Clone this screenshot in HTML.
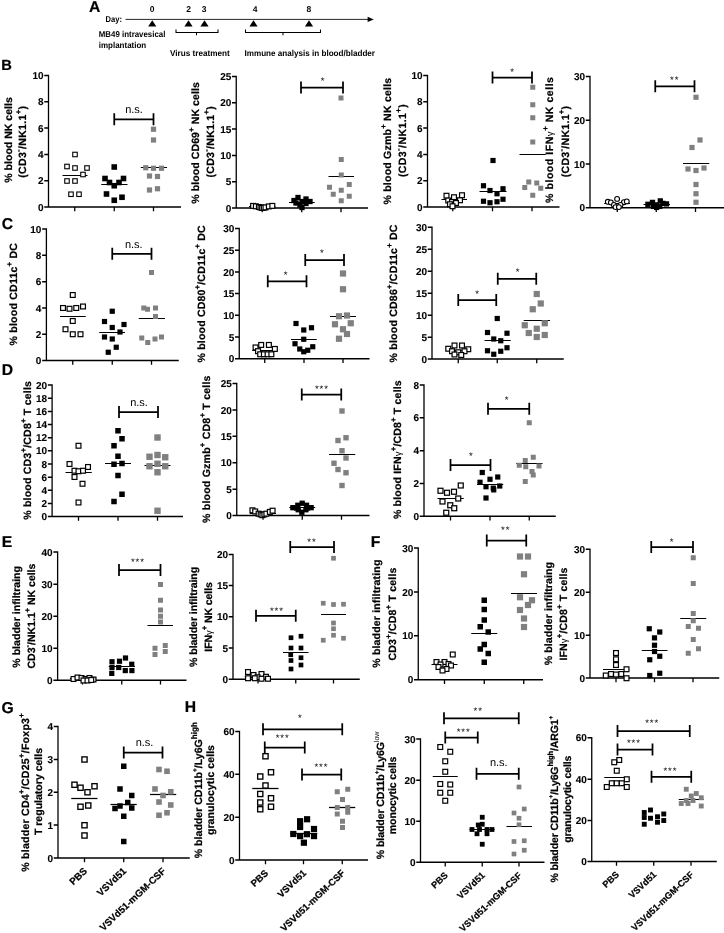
<!DOCTYPE html>
<html lang="en"><head><meta charset="utf-8"><title>Figure</title>
<style>html,body{margin:0;padding:0;background:#fff}svg{display:block}text{font-family:"Liberation Sans", Arial, Helvetica, sans-serif;fill:#000;text-rendering:geometricPrecision}.t text{font-weight:bold;stroke:#000;stroke-width:.1px}.b text,text.b{font-weight:bold;stroke:#000;stroke-width:.22px;stroke-linejoin:round}</style>
</head><body>
<svg width="724" height="933" viewBox="0 0 724 933">
<rect width="724" height="933" fill="#fff"/>
<g class="b" font-size="15.7">
<text x="88.9" y="11.9">A</text>
<text x="1.3" y="70.2" font-size="14.7">B</text>
<text x="1.7" y="228.6">C</text>
<text x="1.7" y="374.6">D</text>
<text x="1.7" y="546.6">E</text>
<text x="370.7" y="546.6">F</text>
<text x="1.5" y="712.6">G</text>
<text x="184.7" y="711.9">H</text>
</g>
<g id="A">
<path d="M125.5 19.4H369" stroke="#000" stroke-width="0.85" fill="none"/>
<path d="M373.8 19.4L367.6 16.8V22Z" fill="#000"/>
<path d="M152.25 20.3L156.35 26.6H148.15Z" fill="#000"/>
<path d="M188.5 20.3L192.6 26.6H184.4Z" fill="#000"/>
<path d="M204.5 20.3L208.6 26.6H200.4Z" fill="#000"/>
<path d="M253.5 20.3L257.6 26.6H249.4Z" fill="#000"/>
<path d="M309 20.3L313.1 26.6H304.9Z" fill="#000"/>
<path d="M176 29.5V32.5H218V29.5M196.5 32.5V35.2" stroke="#000" stroke-width="1.05" fill="none"/>
<path d="M245.5 29.5V32.5H320.5V29.5M283 32.5V35.2" stroke="#000" stroke-width="1.05" fill="none"/>
<g font-weight="bold" font-size="8.5">
<text x="152.1" y="12.2" text-anchor="middle">0</text>
<text x="188.5" y="12.2" text-anchor="middle">2</text>
<text x="204.2" y="12.2" text-anchor="middle">3</text>
<text x="255" y="12.2" text-anchor="middle">4</text>
<text x="308.8" y="12.2" text-anchor="middle">8</text>
<text x="105.5" y="21.6" textLength="16.5" lengthAdjust="spacingAndGlyphs">Day:</text>
<text x="98.8" y="37" textLength="66.6" lengthAdjust="spacingAndGlyphs">MB49 intravesical</text>
<text x="98.8" y="48.2" textLength="47.4" lengthAdjust="spacingAndGlyphs">implantation</text>
<text x="170" y="56.4" textLength="59.8" lengthAdjust="spacingAndGlyphs">Virus treatment</text>
<text x="244.5" y="56.2" textLength="130.5" lengthAdjust="spacingAndGlyphs">Immune analysis in blood/bladder</text>
</g></g>
<g id="B1">
<path d="M48.5 74.85V207H181M48.5 75.5H44.25M48.5 101.75H44.25M48.5 128H44.25M48.5 154.5H44.25M48.5 180.75H44.25M48.5 207H44.25M74.75 207V211.25M114.25 207V211.25M153.5 207V211.25" fill="none" stroke="#000" stroke-width="1.3"/>
<g class="t" font-size="10" text-anchor="end">
<text x="43.5" y="79.1">10</text>
<text x="43.5" y="105.35">8</text>
<text x="43.5" y="131.6">6</text>
<text x="43.5" y="158.1">4</text>
<text x="43.5" y="184.35">2</text>
<text x="43.5" y="210.6">0</text>
</g>
<path d="M62.5 175.5H87.5" stroke="#000" stroke-width="1.05"/>
<rect x="72.75" y="152.25" width="4.5" height="4.5" fill="#fff" stroke="#000" stroke-width="1.1"/>
<rect x="64.75" y="164.25" width="4.5" height="4.5" fill="#fff" stroke="#000" stroke-width="1.1"/>
<rect x="72.75" y="165.75" width="4.5" height="4.5" fill="#fff" stroke="#000" stroke-width="1.1"/>
<rect x="84.75" y="165.75" width="4.5" height="4.5" fill="#fff" stroke="#000" stroke-width="1.1"/>
<rect x="80.75" y="172.25" width="4.5" height="4.5" fill="#fff" stroke="#000" stroke-width="1.1"/>
<rect x="64.75" y="178.75" width="4.5" height="4.5" fill="#fff" stroke="#000" stroke-width="1.1"/>
<rect x="72.75" y="178.75" width="4.5" height="4.5" fill="#fff" stroke="#000" stroke-width="1.1"/>
<rect x="68.75" y="192" width="4.5" height="4.5" fill="#fff" stroke="#000" stroke-width="1.1"/>
<rect x="76.75" y="192" width="4.5" height="4.5" fill="#fff" stroke="#000" stroke-width="1.1"/>
<path d="M101.25 184.5H127.5" stroke="#000" stroke-width="1.05"/>
<rect x="111.45" y="164.2" width="5.6" height="5.6" fill="#000"/>
<rect x="102.2" y="175.7" width="5.6" height="5.6" fill="#000"/>
<rect x="120.7" y="175.7" width="5.6" height="5.6" fill="#000"/>
<rect x="106.7" y="179.7" width="5.6" height="5.6" fill="#000"/>
<rect x="116.2" y="179.7" width="5.6" height="5.6" fill="#000"/>
<rect x="111.45" y="182.95" width="5.6" height="5.6" fill="#000"/>
<rect x="103.7" y="191.2" width="5.6" height="5.6" fill="#000"/>
<rect x="119.2" y="194.45" width="5.6" height="5.6" fill="#000"/>
<rect x="111.45" y="197.45" width="5.6" height="5.6" fill="#000"/>
<path d="M140.75 167.5H167" stroke="#000" stroke-width="1.05"/>
<rect x="150.9" y="126.65" width="5.2" height="5.2" fill="#808080"/>
<rect x="150.9" y="137.4" width="5.2" height="5.2" fill="#808080"/>
<rect x="143.15" y="165.15" width="5.2" height="5.2" fill="#808080"/>
<rect x="150.9" y="165.65" width="5.2" height="5.2" fill="#808080"/>
<rect x="158.9" y="165.65" width="5.2" height="5.2" fill="#808080"/>
<rect x="146.9" y="173.4" width="5.2" height="5.2" fill="#808080"/>
<rect x="154.9" y="173.9" width="5.2" height="5.2" fill="#808080"/>
<rect x="154.9" y="186.15" width="5.2" height="5.2" fill="#808080"/>
<rect x="146.9" y="187.4" width="5.2" height="5.2" fill="#808080"/>
<path d="M114.25 119.25H153.5M114.25 113.35V125.15M153.5 113.35V125.15" fill="none" stroke="#000" stroke-width="1.75"/>
<text x="134" y="113.05" font-size="11" text-anchor="middle">n.s.</text>
<text transform="translate(11.75 182.7) rotate(-90)" class="b" font-size="10.55" textLength="85.5" lengthAdjust="spacing">% blood NK cells</text>
<text transform="translate(25.75 177.7) rotate(-90)" class="b" font-size="10.55" textLength="71.75" lengthAdjust="spacing">(CD3<tspan dy="-4.96" font-size="7.81">-</tspan><tspan dy="4.96">/</tspan>NK1.1<tspan dy="-4.96" font-size="7.81">+</tspan><tspan dy="4.96">)</tspan></text>
</g>
<g id="B2">
<path d="M236.25 75.85V208H368M236.25 76.5H232M236.25 102.75H232M236.25 129H232M236.25 155.5H232M236.25 181.75H232M236.25 208H232M262.25 208V212.25M301.75 208V212.25M341 208V212.25" fill="none" stroke="#000" stroke-width="1.3"/>
<g class="t" font-size="10" text-anchor="end">
<text x="231.25" y="80.1">25</text>
<text x="231.25" y="106.35">20</text>
<text x="231.25" y="132.6">15</text>
<text x="231.25" y="159.1">10</text>
<text x="231.25" y="185.35">5</text>
<text x="231.25" y="211.6">0</text>
</g>
<path d="M249 206.5H275.5" stroke="#000" stroke-width="1.05"/>
<rect x="250.67" y="203.47" width="4.85" height="4.85" fill="#fff" stroke="#000" stroke-width="1.2"/>
<rect x="253.47" y="203.88" width="4.85" height="4.85" fill="#fff" stroke="#000" stroke-width="1.2"/>
<rect x="256.47" y="204.57" width="4.85" height="4.85" fill="#fff" stroke="#000" stroke-width="1.2"/>
<rect x="258.07" y="205.07" width="4.85" height="4.85" fill="#fff" stroke="#000" stroke-width="1.2"/>
<rect x="259.68" y="205.57" width="4.85" height="4.85" fill="#fff" stroke="#000" stroke-width="1.2"/>
<rect x="261.32" y="205.32" width="4.85" height="4.85" fill="#fff" stroke="#000" stroke-width="1.2"/>
<rect x="263.07" y="204.97" width="4.85" height="4.85" fill="#fff" stroke="#000" stroke-width="1.2"/>
<rect x="266.47" y="203.97" width="4.85" height="4.85" fill="#fff" stroke="#000" stroke-width="1.2"/>
<rect x="269.88" y="203.47" width="4.85" height="4.85" fill="#fff" stroke="#000" stroke-width="1.2"/>
<path d="M289 202.5H314.75" stroke="#000" stroke-width="1.05"/>
<rect x="295.35" y="194.85" width="5.3" height="5.3" fill="#000"/>
<rect x="303.35" y="196.35" width="5.3" height="5.3" fill="#000"/>
<rect x="291.35" y="197.85" width="5.3" height="5.3" fill="#000"/>
<rect x="299.35" y="198.85" width="5.3" height="5.3" fill="#000"/>
<rect x="307.35" y="198.85" width="5.3" height="5.3" fill="#000"/>
<rect x="293.35" y="200.35" width="5.3" height="5.3" fill="#000"/>
<rect x="303.35" y="200.85" width="5.3" height="5.3" fill="#000"/>
<rect x="297.35" y="202.35" width="5.3" height="5.3" fill="#000"/>
<rect x="299.35" y="204.85" width="5.3" height="5.3" fill="#000"/>
<path d="M328.5 176.5H354" stroke="#000" stroke-width="1.05"/>
<rect x="338.5" y="95.5" width="5.0" height="5.0" fill="#808080"/>
<rect x="338.75" y="157" width="5.0" height="5.0" fill="#808080"/>
<rect x="338.75" y="172.5" width="5.0" height="5.0" fill="#808080"/>
<rect x="327" y="184.75" width="5.0" height="5.0" fill="#808080"/>
<rect x="346.75" y="182" width="5.0" height="5.0" fill="#808080"/>
<rect x="338.75" y="187.75" width="5.0" height="5.0" fill="#808080"/>
<rect x="330.75" y="191.75" width="5.0" height="5.0" fill="#808080"/>
<rect x="346.75" y="193.75" width="5.0" height="5.0" fill="#808080"/>
<rect x="338.75" y="198.25" width="5.0" height="5.0" fill="#808080"/>
<path d="M301 87.5H343M301 81.6V93.4M343 81.6V93.4" fill="none" stroke="#000" stroke-width="1.75"/>
<text x="323" y="84" font-size="9.6" letter-spacing="1" text-anchor="middle">*</text>
<text transform="translate(198.9 203.8) rotate(-90)" class="b" font-size="10.55" textLength="121.7" lengthAdjust="spacing">% blood CD69<tspan dy="-4.96" font-size="7.81">+</tspan><tspan dy="4.96"> </tspan>NK cells</text>
<text transform="translate(214 177.4) rotate(-90)" class="b" font-size="10.55" textLength="71.2" lengthAdjust="spacing">(CD3<tspan dy="-4.96" font-size="7.81">-</tspan><tspan dy="4.96">/</tspan>NK1.1<tspan dy="-4.96" font-size="7.81">+</tspan><tspan dy="4.96">)</tspan></text>
</g>
<g id="B3">
<path d="M427.5 74.85V207H559.5M427.5 75.5H423.25M427.5 101.75H423.25M427.5 128H423.25M427.5 154.5H423.25M427.5 180.75H423.25M427.5 207H423.25M452.75 207V211.25M492.5 207V211.25M532 207V211.25" fill="none" stroke="#000" stroke-width="1.3"/>
<g class="t" font-size="10" text-anchor="end">
<text x="422.5" y="79.1">10</text>
<text x="422.5" y="105.35">8</text>
<text x="422.5" y="131.6">6</text>
<text x="422.5" y="158.1">4</text>
<text x="422.5" y="184.35">2</text>
<text x="422.5" y="210.6">0</text>
</g>
<path d="M441.5 199.5H467" stroke="#000" stroke-width="1.05"/>
<rect x="444.07" y="193.32" width="4.85" height="4.85" fill="#fff" stroke="#000" stroke-width="1.2"/>
<rect x="459.57" y="192.82" width="4.85" height="4.85" fill="#fff" stroke="#000" stroke-width="1.2"/>
<rect x="451.57" y="194.82" width="4.85" height="4.85" fill="#fff" stroke="#000" stroke-width="1.2"/>
<rect x="445.82" y="198.07" width="4.85" height="4.85" fill="#fff" stroke="#000" stroke-width="1.2"/>
<rect x="457.57" y="197.82" width="4.85" height="4.85" fill="#fff" stroke="#000" stroke-width="1.2"/>
<rect x="449.57" y="199.57" width="4.85" height="4.85" fill="#fff" stroke="#000" stroke-width="1.2"/>
<rect x="453.57" y="200.57" width="4.85" height="4.85" fill="#fff" stroke="#000" stroke-width="1.2"/>
<rect x="447.57" y="201.82" width="4.85" height="4.85" fill="#fff" stroke="#000" stroke-width="1.2"/>
<rect x="450.07" y="203.82" width="4.85" height="4.85" fill="#fff" stroke="#000" stroke-width="1.2"/>
<path d="M479.5 191.5H506.5" stroke="#000" stroke-width="1.05"/>
<rect x="490.4" y="157.9" width="5.2" height="5.2" fill="#000"/>
<rect x="480.9" y="183.15" width="5.2" height="5.2" fill="#000"/>
<rect x="500.4" y="186.15" width="5.2" height="5.2" fill="#000"/>
<rect x="487.4" y="187.9" width="5.2" height="5.2" fill="#000"/>
<rect x="494.4" y="191.15" width="5.2" height="5.2" fill="#000"/>
<rect x="480.9" y="198.65" width="5.2" height="5.2" fill="#000"/>
<rect x="500.4" y="196.65" width="5.2" height="5.2" fill="#000"/>
<rect x="487.4" y="200.15" width="5.2" height="5.2" fill="#000"/>
<rect x="494.4" y="199.15" width="5.2" height="5.2" fill="#000"/>
<path d="M519.5 154.5H545.75" stroke="#000" stroke-width="1.05"/>
<rect x="530.25" y="84.75" width="5.0" height="5.0" fill="#808080"/>
<rect x="530.25" y="102.25" width="5.0" height="5.0" fill="#808080"/>
<rect x="530.25" y="115.25" width="5.0" height="5.0" fill="#808080"/>
<rect x="530.25" y="139.5" width="5.0" height="5.0" fill="#808080"/>
<rect x="526.25" y="179.5" width="5.0" height="5.0" fill="#808080"/>
<rect x="534.25" y="180.5" width="5.0" height="5.0" fill="#808080"/>
<rect x="522.25" y="185" width="5.0" height="5.0" fill="#808080"/>
<rect x="538.25" y="185.75" width="5.0" height="5.0" fill="#808080"/>
<rect x="530.25" y="192.75" width="5.0" height="5.0" fill="#808080"/>
<path d="M492.5 77.5H532M492.5 71.6V83.4M532 71.6V83.4" fill="none" stroke="#000" stroke-width="1.75"/>
<text x="512.5" y="74.5" font-size="9.6" letter-spacing="1" text-anchor="middle">*</text>
<text transform="translate(390.5 204.5) rotate(-90)" class="b" font-size="10.55" textLength="126.7" lengthAdjust="spacing">% blood Gzmb<tspan dy="-4.96" font-size="7.81">+</tspan><tspan dy="4.96"> </tspan>NK cells</text>
<text transform="translate(406.25 177.1) rotate(-90)" class="b" font-size="10.55" textLength="72.8" lengthAdjust="spacing">(CD3<tspan dy="-4.96" font-size="7.81">-</tspan><tspan dy="4.96">/</tspan>NK1.1<tspan dy="-4.96" font-size="7.81">+</tspan><tspan dy="4.96">)</tspan></text>
</g>
<g id="B4">
<path d="M590 75.85V207.75H724M590 76.5H585.75M590 120.25H585.75M590 164H585.75M590 207.75H585.75M617.25 207.75V212M656.25 207.75V212M695.5 207.75V212" fill="none" stroke="#000" stroke-width="1.3"/>
<g class="t" font-size="10" text-anchor="end">
<text x="585" y="80.1">30</text>
<text x="585" y="123.85">20</text>
<text x="585" y="167.6">10</text>
<text x="585" y="211.35">0</text>
</g>
<path d="M604.25 203.5H630" stroke="#000" stroke-width="1.05"/>
<circle cx="617.1" cy="198.9" r="2.4" fill="#fff" stroke="#000" stroke-width="1.1"/>
<circle cx="607.8" cy="201.8" r="2.4" fill="#fff" stroke="#000" stroke-width="1.1"/>
<circle cx="610.9" cy="202.4" r="2.4" fill="#fff" stroke="#000" stroke-width="1.1"/>
<circle cx="623.9" cy="202.2" r="2.4" fill="#fff" stroke="#000" stroke-width="1.1"/>
<circle cx="626.8" cy="201.4" r="2.4" fill="#fff" stroke="#000" stroke-width="1.1"/>
<circle cx="613.9" cy="204.9" r="2.4" fill="#fff" stroke="#000" stroke-width="1.1"/>
<circle cx="620.5" cy="204.9" r="2.4" fill="#fff" stroke="#000" stroke-width="1.1"/>
<circle cx="615.5" cy="207.1" r="2.4" fill="#fff" stroke="#000" stroke-width="1.1"/>
<circle cx="618.9" cy="207.1" r="2.4" fill="#fff" stroke="#000" stroke-width="1.1"/>
<path d="M643.5 204.5H670" stroke="#000" stroke-width="1.05"/>
<rect x="657.65" y="198.25" width="5.3" height="5.3" fill="#000"/>
<rect x="649.85" y="199.75" width="5.3" height="5.3" fill="#000"/>
<rect x="645.25" y="201.65" width="5.3" height="5.3" fill="#000"/>
<rect x="663.85" y="201.25" width="5.3" height="5.3" fill="#000"/>
<rect x="660.35" y="200.75" width="5.3" height="5.3" fill="#000"/>
<rect x="653.55" y="202.25" width="5.3" height="5.3" fill="#000"/>
<rect x="650.85" y="203.75" width="5.3" height="5.3" fill="#000"/>
<rect x="657.05" y="203.75" width="5.3" height="5.3" fill="#000"/>
<rect x="653.95" y="204.75" width="5.3" height="5.3" fill="#000"/>
<path d="M683 163.5H709.25" stroke="#000" stroke-width="1.05"/>
<rect x="693.4" y="94.65" width="5.2" height="5.2" fill="#808080"/>
<rect x="697.4" y="137.4" width="5.2" height="5.2" fill="#808080"/>
<rect x="689.4" y="144.9" width="5.2" height="5.2" fill="#808080"/>
<rect x="685.4" y="166.4" width="5.2" height="5.2" fill="#808080"/>
<rect x="693.4" y="167.9" width="5.2" height="5.2" fill="#808080"/>
<rect x="701.4" y="165.4" width="5.2" height="5.2" fill="#808080"/>
<rect x="693.4" y="181.9" width="5.2" height="5.2" fill="#808080"/>
<rect x="693.4" y="191.15" width="5.2" height="5.2" fill="#808080"/>
<rect x="693.4" y="199.65" width="5.2" height="5.2" fill="#808080"/>
<path d="M655.25 86.25H694.5M655.25 80.35V92.15M694.5 80.35V92.15" fill="none" stroke="#000" stroke-width="1.75"/>
<text x="674.75" y="83" font-size="9.6" letter-spacing="1" text-anchor="middle">**</text>
<text transform="translate(553.25 202.9) rotate(-90)" class="b" font-size="10.55" textLength="125.9" lengthAdjust="spacing">% blood IFN<tspan font-weight="normal" font-size="9.6" stroke="none">γ</tspan><tspan dy="-4.96" font-size="7.81">+</tspan><tspan dy="4.96"> </tspan>NK cells</text>
<text transform="translate(569 177.2) rotate(-90)" class="b" font-size="10.55" textLength="71.3" lengthAdjust="spacing">(CD3<tspan dy="-4.96" font-size="7.81">-</tspan><tspan dy="4.96">/</tspan>NK1.1<tspan dy="-4.96" font-size="7.81">+</tspan><tspan dy="4.96">)</tspan></text>
</g>
<g id="C1">
<path d="M46.4 228.35V360.5H178.75M46.4 229H42.15M46.4 255.25H42.15M46.4 281.75H42.15M46.4 308H42.15M46.4 334.25H42.15M46.4 360.5H42.15M72.75 360.5V364.75M112.25 360.5V364.75M151.5 360.5V364.75" fill="none" stroke="#000" stroke-width="1.3"/>
<g class="t" font-size="10" text-anchor="end">
<text x="41.4" y="232.6">10</text>
<text x="41.4" y="258.85">8</text>
<text x="41.4" y="285.35">6</text>
<text x="41.4" y="311.6">4</text>
<text x="41.4" y="337.85">2</text>
<text x="41.4" y="364.1">0</text>
</g>
<path d="M60 316.5H85.75" stroke="#000" stroke-width="1.05"/>
<rect x="70.33" y="292.57" width="4.85" height="4.85" fill="#fff" stroke="#000" stroke-width="1.2"/>
<rect x="80.58" y="304.07" width="4.85" height="4.85" fill="#fff" stroke="#000" stroke-width="1.2"/>
<rect x="60.58" y="305.57" width="4.85" height="4.85" fill="#fff" stroke="#000" stroke-width="1.2"/>
<rect x="67.08" y="306.32" width="4.85" height="4.85" fill="#fff" stroke="#000" stroke-width="1.2"/>
<rect x="73.83" y="305.57" width="4.85" height="4.85" fill="#fff" stroke="#000" stroke-width="1.2"/>
<rect x="70.33" y="318.57" width="4.85" height="4.85" fill="#fff" stroke="#000" stroke-width="1.2"/>
<rect x="63.08" y="326.82" width="4.85" height="4.85" fill="#fff" stroke="#000" stroke-width="1.2"/>
<rect x="70.33" y="331.82" width="4.85" height="4.85" fill="#fff" stroke="#000" stroke-width="1.2"/>
<rect x="78.08" y="331.82" width="4.85" height="4.85" fill="#fff" stroke="#000" stroke-width="1.2"/>
<path d="M99.25 332.5H125" stroke="#000" stroke-width="1.05"/>
<rect x="109.65" y="308.65" width="5.2" height="5.2" fill="#000"/>
<rect x="101.9" y="318.9" width="5.2" height="5.2" fill="#000"/>
<rect x="121.4" y="321.9" width="5.2" height="5.2" fill="#000"/>
<rect x="109.65" y="324.9" width="5.2" height="5.2" fill="#000"/>
<rect x="117.4" y="329.4" width="5.2" height="5.2" fill="#000"/>
<rect x="101.9" y="334.4" width="5.2" height="5.2" fill="#000"/>
<rect x="109.65" y="336.4" width="5.2" height="5.2" fill="#000"/>
<rect x="113.65" y="344.65" width="5.2" height="5.2" fill="#000"/>
<rect x="105.65" y="349.65" width="5.2" height="5.2" fill="#000"/>
<path d="M138.75 318.5H165" stroke="#000" stroke-width="1.05"/>
<rect x="149" y="270" width="5.0" height="5.0" fill="#808080"/>
<rect x="141.25" y="305.5" width="5.0" height="5.0" fill="#808080"/>
<rect x="145" y="306.75" width="5.0" height="5.0" fill="#808080"/>
<rect x="153" y="305.5" width="5.0" height="5.0" fill="#808080"/>
<rect x="153" y="314" width="5.0" height="5.0" fill="#808080"/>
<rect x="139.25" y="335.5" width="5.0" height="5.0" fill="#808080"/>
<rect x="145.25" y="340" width="5.0" height="5.0" fill="#808080"/>
<rect x="152.5" y="336.5" width="5.0" height="5.0" fill="#808080"/>
<rect x="159" y="334.5" width="5.0" height="5.0" fill="#808080"/>
<path d="M112.25 253.75H151.5M112.25 247.85V259.65M151.5 247.85V259.65" fill="none" stroke="#000" stroke-width="1.75"/>
<text x="133.75" y="247.55" font-size="11" text-anchor="middle">n.s.</text>
<text transform="translate(17.35 345.5) rotate(-90)" class="b" font-size="10.55" textLength="102.5" lengthAdjust="spacing">% blood CD11c<tspan dy="-4.96" font-size="7.81">+</tspan><tspan dy="4.96"> </tspan>DC</text>
</g>
<g id="C2">
<path d="M239.25 227.85V358.75H369.5M239.25 228.5H235M239.25 250.25H235M239.25 272H235M239.25 293.5H235M239.25 315.25H235M239.25 337H235M239.25 358.75H235M264.75 358.75V363M304 358.75V363M343 358.75V363" fill="none" stroke="#000" stroke-width="1.3"/>
<g class="t" font-size="10" text-anchor="end">
<text x="234.25" y="232.1">30</text>
<text x="234.25" y="253.85">25</text>
<text x="234.25" y="275.6">20</text>
<text x="234.25" y="297.1">15</text>
<text x="234.25" y="318.85">10</text>
<text x="234.25" y="340.6">5</text>
<text x="234.25" y="362.35">0</text>
</g>
<path d="M252.25 350.5H277.25" stroke="#000" stroke-width="1.05"/>
<rect x="258.75" y="342.52" width="4.85" height="4.85" fill="#fff" stroke="#000" stroke-width="1.2"/>
<rect x="266.45" y="342.52" width="4.85" height="4.85" fill="#fff" stroke="#000" stroke-width="1.2"/>
<rect x="253.15" y="345.02" width="4.85" height="4.85" fill="#fff" stroke="#000" stroke-width="1.2"/>
<rect x="272.43" y="346.5" width="4.85" height="4.85" fill="#fff" stroke="#000" stroke-width="1.2"/>
<rect x="255.62" y="348.75" width="4.85" height="4.85" fill="#fff" stroke="#000" stroke-width="1.2"/>
<rect x="257.75" y="351.85" width="4.85" height="4.85" fill="#fff" stroke="#000" stroke-width="1.2"/>
<rect x="261.47" y="351.85" width="4.85" height="4.85" fill="#fff" stroke="#000" stroke-width="1.2"/>
<rect x="265.2" y="351.85" width="4.85" height="4.85" fill="#fff" stroke="#000" stroke-width="1.2"/>
<rect x="268.95" y="351.85" width="4.85" height="4.85" fill="#fff" stroke="#000" stroke-width="1.2"/>
<path d="M291 339.5H316.75" stroke="#000" stroke-width="1.05"/>
<rect x="293.4" y="320.9" width="5.2" height="5.2" fill="#000"/>
<rect x="308.9" y="325.15" width="5.2" height="5.2" fill="#000"/>
<rect x="301.15" y="327.4" width="5.2" height="5.2" fill="#000"/>
<rect x="301.15" y="336.65" width="5.2" height="5.2" fill="#000"/>
<rect x="292.4" y="341.15" width="5.2" height="5.2" fill="#000"/>
<rect x="310.15" y="344.15" width="5.2" height="5.2" fill="#000"/>
<rect x="297.15" y="346.4" width="5.2" height="5.2" fill="#000"/>
<rect x="305.15" y="347.65" width="5.2" height="5.2" fill="#000"/>
<rect x="301.15" y="349.15" width="5.2" height="5.2" fill="#000"/>
<path d="M330 316.5H356" stroke="#000" stroke-width="1.05"/>
<rect x="339.9" y="270.4" width="6.2" height="6.2" fill="#808080"/>
<rect x="339.9" y="286.15" width="6.2" height="6.2" fill="#808080"/>
<rect x="335.9" y="313.15" width="6.2" height="6.2" fill="#808080"/>
<rect x="343.9" y="312.4" width="6.2" height="6.2" fill="#808080"/>
<rect x="331.9" y="321.15" width="6.2" height="6.2" fill="#808080"/>
<rect x="347.65" y="320.15" width="6.2" height="6.2" fill="#808080"/>
<rect x="339.9" y="326.15" width="6.2" height="6.2" fill="#808080"/>
<rect x="343.9" y="330.9" width="6.2" height="6.2" fill="#808080"/>
<rect x="335.9" y="335.65" width="6.2" height="6.2" fill="#808080"/>
<path d="M267.75 281.25H306.5M267.75 275.35V287.15M306.5 275.35V287.15" fill="none" stroke="#000" stroke-width="1.75"/>
<text x="286" y="278" font-size="9.6" letter-spacing="1" text-anchor="middle">*</text>
<path d="M305.25 260H344M305.25 254.1V265.9M344 254.1V265.9" fill="none" stroke="#000" stroke-width="1.75"/>
<text x="322.25" y="256.25" font-size="9.6" letter-spacing="1" text-anchor="middle">*</text>
<text transform="translate(205.1 362.4) rotate(-90)" class="b" font-size="10.55" textLength="137.1" lengthAdjust="spacing">% blood CD80<tspan dy="-4.96" font-size="7.81">+</tspan><tspan dy="4.96">/</tspan>CD11c<tspan dy="-4.96" font-size="7.81">+</tspan><tspan dy="4.96"> </tspan>DC</text>
</g>
<g id="C3">
<path d="M432 226.6V359H563.75M432 227.25H427.75M432 249.25H427.75M432 271.25H427.75M432 293.25H427.75M432 315.25H427.75M432 337.25H427.75M432 359H427.75M458.25 359V363.25M497.25 359V363.25M536.75 359V363.25" fill="none" stroke="#000" stroke-width="1.3"/>
<g class="t" font-size="10" text-anchor="end">
<text x="427" y="230.85">30</text>
<text x="427" y="252.85">25</text>
<text x="427" y="274.85">20</text>
<text x="427" y="296.85">15</text>
<text x="427" y="318.85">10</text>
<text x="427" y="340.85">5</text>
<text x="427" y="362.6">0</text>
</g>
<path d="M445.75 350.5H470.75" stroke="#000" stroke-width="1.05"/>
<rect x="452.07" y="343.07" width="4.85" height="4.85" fill="#fff" stroke="#000" stroke-width="1.2"/>
<rect x="459.57" y="343.07" width="4.85" height="4.85" fill="#fff" stroke="#000" stroke-width="1.2"/>
<rect x="445.82" y="346.32" width="4.85" height="4.85" fill="#fff" stroke="#000" stroke-width="1.2"/>
<rect x="465.82" y="346.82" width="4.85" height="4.85" fill="#fff" stroke="#000" stroke-width="1.2"/>
<rect x="449.57" y="348.82" width="4.85" height="4.85" fill="#fff" stroke="#000" stroke-width="1.2"/>
<rect x="462.07" y="348.82" width="4.85" height="4.85" fill="#fff" stroke="#000" stroke-width="1.2"/>
<rect x="455.82" y="349.82" width="4.85" height="4.85" fill="#fff" stroke="#000" stroke-width="1.2"/>
<rect x="452.07" y="352.07" width="4.85" height="4.85" fill="#fff" stroke="#000" stroke-width="1.2"/>
<rect x="458.82" y="352.57" width="4.85" height="4.85" fill="#fff" stroke="#000" stroke-width="1.2"/>
<path d="M484.5 340.5H510.75" stroke="#000" stroke-width="1.05"/>
<rect x="494.65" y="315.9" width="5.2" height="5.2" fill="#000"/>
<rect x="484.9" y="329.9" width="5.2" height="5.2" fill="#000"/>
<rect x="504.4" y="330.65" width="5.2" height="5.2" fill="#000"/>
<rect x="491.15" y="336.4" width="5.2" height="5.2" fill="#000"/>
<rect x="498.15" y="338.15" width="5.2" height="5.2" fill="#000"/>
<rect x="504.4" y="345.15" width="5.2" height="5.2" fill="#000"/>
<rect x="484.9" y="348.15" width="5.2" height="5.2" fill="#000"/>
<rect x="498.15" y="348.65" width="5.2" height="5.2" fill="#000"/>
<rect x="491.15" y="351.65" width="5.2" height="5.2" fill="#000"/>
<path d="M523.75 320.5H550" stroke="#000" stroke-width="1.05"/>
<rect x="533.65" y="290.9" width="6.2" height="6.2" fill="#808080"/>
<rect x="537.65" y="300.4" width="6.2" height="6.2" fill="#808080"/>
<rect x="529.65" y="306.15" width="6.2" height="6.2" fill="#808080"/>
<rect x="541.65" y="320.15" width="6.2" height="6.2" fill="#808080"/>
<rect x="521.65" y="322.15" width="6.2" height="6.2" fill="#808080"/>
<rect x="533.65" y="325.65" width="6.2" height="6.2" fill="#808080"/>
<rect x="525.65" y="329.9" width="6.2" height="6.2" fill="#808080"/>
<rect x="541.65" y="331.9" width="6.2" height="6.2" fill="#808080"/>
<rect x="533.65" y="333.9" width="6.2" height="6.2" fill="#808080"/>
<path d="M458.25 300H496.25M458.25 294.1V305.9M496.25 294.1V305.9" fill="none" stroke="#000" stroke-width="1.75"/>
<text x="477.5" y="296.75" font-size="9.6" letter-spacing="1" text-anchor="middle">*</text>
<path d="M497.75 278.75H536.25M497.75 272.85V284.65M536.25 272.85V284.65" fill="none" stroke="#000" stroke-width="1.75"/>
<text x="518" y="274.5" font-size="9.6" letter-spacing="1" text-anchor="middle">*</text>
<text transform="translate(397.32 362.4) rotate(-90)" class="b" font-size="10.55" textLength="137.9" lengthAdjust="spacing">% blood CD86<tspan dy="-4.96" font-size="7.81">+</tspan><tspan dy="4.96">/</tspan>CD11c<tspan dy="-4.96" font-size="7.81">+</tspan><tspan dy="4.96"> </tspan>DC</text>
</g>
<g id="D1">
<path d="M52.1 384.35V516.5H183M52.1 385H47.85M52.1 398.25H47.85M52.1 411.5H47.85M52.1 424.5H47.85M52.1 437.75H47.85M52.1 450.75H47.85M52.1 464H47.85M52.1 477.25H47.85M52.1 490.25H47.85M52.1 503.5H47.85M52.1 516.5H47.85M78.5 516.5V520.75M118 516.5V520.75M157.5 516.5V520.75" fill="none" stroke="#000" stroke-width="1.3"/>
<g class="t" font-size="10" text-anchor="end">
<text x="47.1" y="388.6">20</text>
<text x="47.1" y="401.85">18</text>
<text x="47.1" y="415.1">16</text>
<text x="47.1" y="428.1">14</text>
<text x="47.1" y="441.35">12</text>
<text x="47.1" y="454.35">10</text>
<text x="47.1" y="467.6">8</text>
<text x="47.1" y="480.85">6</text>
<text x="47.1" y="493.85">4</text>
<text x="47.1" y="507.1">2</text>
<text x="47.1" y="520.1">0</text>
</g>
<path d="M65.5 472.5H91.75" stroke="#000" stroke-width="1.05"/>
<rect x="76.08" y="443.32" width="4.85" height="4.85" fill="#fff" stroke="#000" stroke-width="1.2"/>
<rect x="67.08" y="461.57" width="4.85" height="4.85" fill="#fff" stroke="#000" stroke-width="1.2"/>
<rect x="85.58" y="464.57" width="4.85" height="4.85" fill="#fff" stroke="#000" stroke-width="1.2"/>
<rect x="72.08" y="468.32" width="4.85" height="4.85" fill="#fff" stroke="#000" stroke-width="1.2"/>
<rect x="76.08" y="468.82" width="4.85" height="4.85" fill="#fff" stroke="#000" stroke-width="1.2"/>
<rect x="80.58" y="468.32" width="4.85" height="4.85" fill="#fff" stroke="#000" stroke-width="1.2"/>
<rect x="72.08" y="474.57" width="4.85" height="4.85" fill="#fff" stroke="#000" stroke-width="1.2"/>
<rect x="80.08" y="481.32" width="4.85" height="4.85" fill="#fff" stroke="#000" stroke-width="1.2"/>
<rect x="76.08" y="500.07" width="4.85" height="4.85" fill="#fff" stroke="#000" stroke-width="1.2"/>
<path d="M105 463.5H131" stroke="#000" stroke-width="1.05"/>
<rect x="115.25" y="428" width="5.5" height="5.5" fill="#000"/>
<rect x="119.25" y="436" width="5.5" height="5.5" fill="#000"/>
<rect x="111.25" y="443" width="5.5" height="5.5" fill="#000"/>
<rect x="115.25" y="453.5" width="5.5" height="5.5" fill="#000"/>
<rect x="111.25" y="461.5" width="5.5" height="5.5" fill="#000"/>
<rect x="119.25" y="460.75" width="5.5" height="5.5" fill="#000"/>
<rect x="115.25" y="472.75" width="5.5" height="5.5" fill="#000"/>
<rect x="119.25" y="491.5" width="5.5" height="5.5" fill="#000"/>
<rect x="111.25" y="498.75" width="5.5" height="5.5" fill="#000"/>
<path d="M144.5 465.5H170.5" stroke="#000" stroke-width="1.05"/>
<rect x="154.3" y="434.3" width="6.4" height="6.4" fill="#808080"/>
<rect x="154.3" y="451.8" width="6.4" height="6.4" fill="#808080"/>
<rect x="146.3" y="453.55" width="6.4" height="6.4" fill="#808080"/>
<rect x="162.05" y="454.05" width="6.4" height="6.4" fill="#808080"/>
<rect x="146.3" y="463.05" width="6.4" height="6.4" fill="#808080"/>
<rect x="154.3" y="460.55" width="6.4" height="6.4" fill="#808080"/>
<rect x="162.05" y="463.05" width="6.4" height="6.4" fill="#808080"/>
<rect x="154.3" y="469.05" width="6.4" height="6.4" fill="#808080"/>
<rect x="154.3" y="507.55" width="6.4" height="6.4" fill="#808080"/>
<path d="M119 412H158M119 406.1V417.9M158 406.1V417.9" fill="none" stroke="#000" stroke-width="1.75"/>
<text x="139" y="405.8" font-size="11" text-anchor="middle">n.s.</text>
<text transform="translate(30.5 519.8) rotate(-90)" class="b" font-size="10.55" textLength="138.7" lengthAdjust="spacing">% blood CD3<tspan dy="-4.96" font-size="7.81">+</tspan><tspan dy="4.96">/</tspan>CD8<tspan dy="-4.96" font-size="7.81">+</tspan><tspan dy="4.96"> </tspan>T cells</text>
</g>
<g id="D2">
<path d="M236.75 382.85V515.5H369.5M236.75 383.5H232.5M236.75 410H232.5M236.75 436.25H232.5M236.75 462.75H232.5M236.75 489.25H232.5M236.75 515.5H232.5M263 515.5V519.75M302.25 515.5V519.75M341.5 515.5V519.75" fill="none" stroke="#000" stroke-width="1.3"/>
<g class="t" font-size="10" text-anchor="end">
<text x="231.75" y="387.1">25</text>
<text x="231.75" y="413.6">20</text>
<text x="231.75" y="439.85">15</text>
<text x="231.75" y="466.35">10</text>
<text x="231.75" y="492.85">5</text>
<text x="231.75" y="519.1">0</text>
</g>
<path d="M249.75 513.5H276" stroke="#000" stroke-width="1.05"/>
<rect x="250.02" y="507.88" width="4.85" height="4.85" fill="#fff" stroke="#000" stroke-width="1.2"/>
<rect x="252.75" y="509" width="4.85" height="4.85" fill="#fff" stroke="#000" stroke-width="1.2"/>
<rect x="256.22" y="511.22" width="4.85" height="4.85" fill="#fff" stroke="#000" stroke-width="1.2"/>
<rect x="258.22" y="511.97" width="4.85" height="4.85" fill="#fff" stroke="#000" stroke-width="1.2"/>
<rect x="259.97" y="512.73" width="4.85" height="4.85" fill="#fff" stroke="#000" stroke-width="1.2"/>
<rect x="261.95" y="511.97" width="4.85" height="4.85" fill="#fff" stroke="#000" stroke-width="1.2"/>
<rect x="263.95" y="511.22" width="4.85" height="4.85" fill="#fff" stroke="#000" stroke-width="1.2"/>
<rect x="267.43" y="509.5" width="4.85" height="4.85" fill="#fff" stroke="#000" stroke-width="1.2"/>
<rect x="270.15" y="508.25" width="4.85" height="4.85" fill="#fff" stroke="#000" stroke-width="1.2"/>
<path d="M289.25 507.5H315.25" stroke="#000" stroke-width="1.05"/>
<rect x="299.55" y="500.6" width="5.3" height="5.3" fill="#000"/>
<rect x="295.18" y="502.6" width="5.3" height="5.3" fill="#000"/>
<rect x="303.9" y="502.6" width="5.3" height="5.3" fill="#000"/>
<rect x="290.2" y="505.03" width="5.3" height="5.3" fill="#000"/>
<rect x="308.5" y="505.03" width="5.3" height="5.3" fill="#000"/>
<rect x="294.1" y="505.35" width="5.3" height="5.3" fill="#000"/>
<rect x="304.85" y="505.35" width="5.3" height="5.3" fill="#000"/>
<rect x="295.55" y="507.1" width="5.3" height="5.3" fill="#000"/>
<rect x="303.28" y="507.1" width="5.3" height="5.3" fill="#000"/>
<rect x="299.18" y="509.6" width="5.3" height="5.3" fill="#000"/>
<path d="M329 454.5H355.25" stroke="#000" stroke-width="1.05"/>
<rect x="339.3" y="408.3" width="5.4" height="5.4" fill="#808080"/>
<rect x="343.3" y="435.05" width="5.4" height="5.4" fill="#808080"/>
<rect x="335.3" y="437.8" width="5.4" height="5.4" fill="#808080"/>
<rect x="339.3" y="448.05" width="5.4" height="5.4" fill="#808080"/>
<rect x="343.3" y="455.3" width="5.4" height="5.4" fill="#808080"/>
<rect x="331.3" y="460.55" width="5.4" height="5.4" fill="#808080"/>
<rect x="335.3" y="466.8" width="5.4" height="5.4" fill="#808080"/>
<rect x="343.3" y="470.05" width="5.4" height="5.4" fill="#808080"/>
<rect x="339.3" y="482.8" width="5.4" height="5.4" fill="#808080"/>
<path d="M301.75 394.5H341.25M301.75 388.6V400.4M341.25 388.6V400.4" fill="none" stroke="#000" stroke-width="1.75"/>
<text x="322" y="391.5" font-size="9.6" letter-spacing="1" text-anchor="middle">***</text>
<text transform="translate(209.93 523) rotate(-90)" class="b" font-size="10.55" textLength="147.5" lengthAdjust="spacing">% blood Gzmb<tspan dy="-4.96" font-size="7.81">+</tspan><tspan dy="4.96"> </tspan>CD8<tspan dy="-4.96" font-size="7.81">+</tspan><tspan dy="4.96"> </tspan>T cells</text>
</g>
<g id="D3">
<path d="M424 384.35V516.25H555.75M424 385H419.75M424 417.75H419.75M424 450.75H419.75M424 483.5H419.75M424 516.25H419.75M450.5 516.25V520.5M490 516.25V520.5M529.25 516.25V520.5" fill="none" stroke="#000" stroke-width="1.3"/>
<g class="t" font-size="10" text-anchor="end">
<text x="419" y="388.6">8</text>
<text x="419" y="421.35">6</text>
<text x="419" y="454.35">4</text>
<text x="419" y="487.1">2</text>
<text x="419" y="519.85">0</text>
</g>
<path d="M437.5 498.5H463.75" stroke="#000" stroke-width="1.05"/>
<rect x="458.27" y="483.02" width="4.95" height="4.95" fill="#fff" stroke="#000" stroke-width="1.25"/>
<rect x="438.02" y="488.27" width="4.95" height="4.95" fill="#fff" stroke="#000" stroke-width="1.25"/>
<rect x="451.52" y="489.27" width="4.95" height="4.95" fill="#fff" stroke="#000" stroke-width="1.25"/>
<rect x="444.52" y="490.27" width="4.95" height="4.95" fill="#fff" stroke="#000" stroke-width="1.25"/>
<rect x="455.77" y="496.02" width="4.95" height="4.95" fill="#fff" stroke="#000" stroke-width="1.25"/>
<rect x="440.02" y="499.02" width="4.95" height="4.95" fill="#fff" stroke="#000" stroke-width="1.25"/>
<rect x="447.77" y="502.77" width="4.95" height="4.95" fill="#fff" stroke="#000" stroke-width="1.25"/>
<rect x="451.77" y="505.77" width="4.95" height="4.95" fill="#fff" stroke="#000" stroke-width="1.25"/>
<rect x="443.77" y="510.27" width="4.95" height="4.95" fill="#fff" stroke="#000" stroke-width="1.25"/>
<path d="M477 484.5H503.25" stroke="#000" stroke-width="1.05"/>
<rect x="479.65" y="469.9" width="5.2" height="5.2" fill="#000"/>
<rect x="495.15" y="474.4" width="5.2" height="5.2" fill="#000"/>
<rect x="487.4" y="476.65" width="5.2" height="5.2" fill="#000"/>
<rect x="477.4" y="479.65" width="5.2" height="5.2" fill="#000"/>
<rect x="497.15" y="483.4" width="5.2" height="5.2" fill="#000"/>
<rect x="483.4" y="484.15" width="5.2" height="5.2" fill="#000"/>
<rect x="490.65" y="485.52" width="5.2" height="5.2" fill="#000"/>
<rect x="491.15" y="487.27" width="5.2" height="5.2" fill="#000"/>
<rect x="483.4" y="495.4" width="5.2" height="5.2" fill="#000"/>
<path d="M516.25 463.5H542.5" stroke="#000" stroke-width="1.05"/>
<rect x="526.75" y="420.25" width="5.0" height="5.0" fill="#808080"/>
<rect x="530.75" y="454.75" width="5.0" height="5.0" fill="#808080"/>
<rect x="522.75" y="458" width="5.0" height="5.0" fill="#808080"/>
<rect x="516.75" y="462.75" width="5.0" height="5.0" fill="#808080"/>
<rect x="523.25" y="464.25" width="5.0" height="5.0" fill="#808080"/>
<rect x="536.5" y="463.5" width="5.0" height="5.0" fill="#808080"/>
<rect x="529.5" y="469" width="5.0" height="5.0" fill="#808080"/>
<rect x="530.75" y="472.5" width="5.0" height="5.0" fill="#808080"/>
<rect x="522.75" y="479" width="5.0" height="5.0" fill="#808080"/>
<path d="M450.5 465H490.5M450.5 459.1V470.9M490.5 459.1V470.9" fill="none" stroke="#000" stroke-width="1.75"/>
<text x="471.25" y="458.5" font-size="9.6" letter-spacing="1" text-anchor="middle">*</text>
<path d="M488 408.75H529.25M488 402.85V414.65M529.25 402.85V414.65" fill="none" stroke="#000" stroke-width="1.75"/>
<text x="507" y="403" font-size="9.6" letter-spacing="1" text-anchor="middle">*</text>
<text transform="translate(400.5 519) rotate(-90)" class="b" font-size="10.55" textLength="138.7" lengthAdjust="spacing">% blood IFN<tspan font-weight="normal" font-size="9.6" stroke="none">γ</tspan><tspan dy="-4.96" font-size="7.81">+</tspan><tspan dy="4.96">/</tspan>CD8<tspan dy="-4.96" font-size="7.81">+</tspan><tspan dy="4.96"> </tspan>T cells</text>
</g>
<g id="E1">
<path d="M57.62 551.35V680.25H186.5M57.62 552H53.38M57.62 584.25H53.38M57.62 616.25H53.38M57.62 648.25H53.38M57.62 680.25H53.38M82.5 680.25V684.5M121.75 680.25V684.5M160.5 680.25V684.5" fill="none" stroke="#000" stroke-width="1.3"/>
<g class="t" font-size="10" text-anchor="end">
<text x="52.62" y="555.6">40</text>
<text x="52.62" y="587.85">30</text>
<text x="52.62" y="619.85">20</text>
<text x="52.62" y="651.85">10</text>
<text x="52.62" y="683.85">0</text>
</g>
<path d="M70 678.5H96.25" stroke="#000" stroke-width="1.05"/>
<rect x="71.08" y="676.58" width="4.85" height="4.85" fill="#fff" stroke="#000" stroke-width="1.2"/>
<rect x="75.08" y="675.08" width="4.85" height="4.85" fill="#fff" stroke="#000" stroke-width="1.2"/>
<rect x="79.08" y="675.58" width="4.85" height="4.85" fill="#fff" stroke="#000" stroke-width="1.2"/>
<rect x="83.08" y="676.58" width="4.85" height="4.85" fill="#fff" stroke="#000" stroke-width="1.2"/>
<rect x="87.08" y="675.58" width="4.85" height="4.85" fill="#fff" stroke="#000" stroke-width="1.2"/>
<rect x="91.08" y="677.08" width="4.85" height="4.85" fill="#fff" stroke="#000" stroke-width="1.2"/>
<rect x="81.08" y="678.08" width="4.85" height="4.85" fill="#fff" stroke="#000" stroke-width="1.2"/>
<rect x="85.08" y="678.08" width="4.85" height="4.85" fill="#fff" stroke="#000" stroke-width="1.2"/>
<rect x="88.83" y="677.58" width="4.85" height="4.85" fill="#fff" stroke="#000" stroke-width="1.2"/>
<path d="M108.75 666.5H135" stroke="#000" stroke-width="1.05"/>
<rect x="122.9" y="655.4" width="5.2" height="5.2" fill="#000"/>
<rect x="109.4" y="659.15" width="5.2" height="5.2" fill="#000"/>
<rect x="116.9" y="658.65" width="5.2" height="5.2" fill="#000"/>
<rect x="129.15" y="661.65" width="5.2" height="5.2" fill="#000"/>
<rect x="109.4" y="664.9" width="5.2" height="5.2" fill="#000"/>
<rect x="116.15" y="664.9" width="5.2" height="5.2" fill="#000"/>
<rect x="122.7" y="667.98" width="5.2" height="5.2" fill="#000"/>
<rect x="129.3" y="667.98" width="5.2" height="5.2" fill="#000"/>
<rect x="109.15" y="670.82" width="5.2" height="5.2" fill="#000"/>
<path d="M147.5 625.5H173" stroke="#000" stroke-width="1.05"/>
<rect x="158" y="582" width="5.0" height="5.0" fill="#808080"/>
<rect x="158" y="597.75" width="5.0" height="5.0" fill="#808080"/>
<rect x="158" y="607.5" width="5.0" height="5.0" fill="#808080"/>
<rect x="158" y="613.75" width="5.0" height="5.0" fill="#808080"/>
<rect x="158" y="619.5" width="5.0" height="5.0" fill="#808080"/>
<rect x="162.75" y="643" width="5.0" height="5.0" fill="#808080"/>
<rect x="152.5" y="645.75" width="5.0" height="5.0" fill="#808080"/>
<rect x="162.75" y="649" width="5.0" height="5.0" fill="#808080"/>
<rect x="152.5" y="652" width="5.0" height="5.0" fill="#808080"/>
<path d="M119 570H160.5M119 564.1V575.9M160.5 564.1V575.9" fill="none" stroke="#000" stroke-width="1.75"/>
<text x="138" y="565.25" font-size="9.6" letter-spacing="1" text-anchor="middle">***</text>
<text transform="translate(20.25 667.7) rotate(-90)" class="b" font-size="10.55" textLength="101.7" lengthAdjust="spacing">% bladder infiltraing</text>
<text transform="translate(34.5 668.5) rotate(-90)" class="b" font-size="10.55" textLength="104.9" lengthAdjust="spacing">CD3<tspan dy="-4.96" font-size="7.81">-</tspan><tspan dy="4.96">/</tspan>NK1.1<tspan dy="-4.96" font-size="7.81">+</tspan><tspan dy="4.96"> </tspan>NK cells</text>
</g>
<g id="E2">
<path d="M233 553.85V679.25H359.75M233 554.5H228.75M233 585.5H228.75M233 616.75H228.75M233 648H228.75M233 679.25H228.75M258 679.25V683.5M295.75 679.25V683.5M333.5 679.25V683.5" fill="none" stroke="#000" stroke-width="1.3"/>
<g class="t" font-size="10" text-anchor="end">
<text x="228" y="558.1">20</text>
<text x="228" y="589.1">15</text>
<text x="228" y="620.35">10</text>
<text x="228" y="651.6">5</text>
<text x="228" y="682.85">0</text>
</g>
<path d="M244.75 676.5H271" stroke="#000" stroke-width="1.05"/>
<rect x="245.57" y="669.58" width="4.85" height="4.85" fill="#fff" stroke="#000" stroke-width="1.2"/>
<rect x="259.07" y="671.58" width="4.85" height="4.85" fill="#fff" stroke="#000" stroke-width="1.2"/>
<rect x="251.07" y="672.58" width="4.85" height="4.85" fill="#fff" stroke="#000" stroke-width="1.2"/>
<rect x="263.57" y="674.33" width="4.85" height="4.85" fill="#fff" stroke="#000" stroke-width="1.2"/>
<rect x="255.07" y="674.83" width="4.85" height="4.85" fill="#fff" stroke="#000" stroke-width="1.2"/>
<rect x="245.57" y="675.83" width="4.85" height="4.85" fill="#fff" stroke="#000" stroke-width="1.2"/>
<rect x="252.32" y="675.83" width="4.85" height="4.85" fill="#fff" stroke="#000" stroke-width="1.2"/>
<rect x="259.07" y="676.33" width="4.85" height="4.85" fill="#fff" stroke="#000" stroke-width="1.2"/>
<rect x="265.57" y="676.33" width="4.85" height="4.85" fill="#fff" stroke="#000" stroke-width="1.2"/>
<path d="M283 652.5H308.5" stroke="#000" stroke-width="1.05"/>
<rect x="288.65" y="635.4" width="4.7" height="4.7" fill="#000"/>
<rect x="298.65" y="633.9" width="4.7" height="4.7" fill="#000"/>
<rect x="288.65" y="645.65" width="4.7" height="4.7" fill="#000"/>
<rect x="298.65" y="645.65" width="4.7" height="4.7" fill="#000"/>
<rect x="288.4" y="652.4" width="4.7" height="4.7" fill="#000"/>
<rect x="288.65" y="658.15" width="4.7" height="4.7" fill="#000"/>
<rect x="298.65" y="655.4" width="4.7" height="4.7" fill="#000"/>
<rect x="298.65" y="662.65" width="4.7" height="4.7" fill="#000"/>
<rect x="288.65" y="666.65" width="4.7" height="4.7" fill="#000"/>
<path d="M321 614.5H346" stroke="#000" stroke-width="1.05"/>
<rect x="331.15" y="555.9" width="4.7" height="4.7" fill="#808080"/>
<rect x="320.9" y="600.9" width="4.7" height="4.7" fill="#808080"/>
<rect x="331.15" y="602.15" width="4.7" height="4.7" fill="#808080"/>
<rect x="341.15" y="601.9" width="4.7" height="4.7" fill="#808080"/>
<rect x="331.15" y="620.65" width="4.7" height="4.7" fill="#808080"/>
<rect x="331.15" y="626.4" width="4.7" height="4.7" fill="#808080"/>
<rect x="331.15" y="632.9" width="4.7" height="4.7" fill="#808080"/>
<rect x="341.15" y="635.9" width="4.7" height="4.7" fill="#808080"/>
<rect x="320.9" y="637.9" width="4.7" height="4.7" fill="#808080"/>
<path d="M256 615.75H295.75M256 609.85V621.65M295.75 609.85V621.65" fill="none" stroke="#000" stroke-width="1.75"/>
<text x="277" y="613.5" font-size="9.6" letter-spacing="1" text-anchor="middle">***</text>
<path d="M290.25 547H334M290.25 541.1V552.9M334 541.1V552.9" fill="none" stroke="#000" stroke-width="1.75"/>
<text x="312" y="544.5" font-size="9.6" letter-spacing="1" text-anchor="middle">**</text>
<text transform="translate(196.9 666.9) rotate(-90)" class="b" font-size="10.55" textLength="100.1" lengthAdjust="spacing">% bladder infiltraing</text>
<text transform="translate(211.5 651.7) rotate(-90)" class="b" font-size="10.55" textLength="69.6" lengthAdjust="spacing">IFN<tspan font-weight="normal" font-size="9.6" stroke="none">γ</tspan><tspan dy="-4.96" font-size="7.81">+</tspan><tspan dy="4.96"> </tspan>NK cells</text>
</g>
<g id="F1">
<path d="M418.25 547.35V679.75H543M418.25 548H414M418.25 592H414M418.25 635.75H414M418.25 679.75H414M444.5 679.75V684M484.25 679.75V684M523.75 679.75V684" fill="none" stroke="#000" stroke-width="1.3"/>
<g class="t" font-size="10" text-anchor="end">
<text x="413.25" y="551.6">30</text>
<text x="413.25" y="595.6">20</text>
<text x="413.25" y="639.35">10</text>
<text x="413.25" y="683.35">0</text>
</g>
<path d="M431.5 664.5H457.5" stroke="#000" stroke-width="1.05"/>
<rect x="450.32" y="652.08" width="4.85" height="4.85" fill="#fff" stroke="#000" stroke-width="1.2"/>
<rect x="434.07" y="659.58" width="4.85" height="4.85" fill="#fff" stroke="#000" stroke-width="1.2"/>
<rect x="442.07" y="659.58" width="4.85" height="4.85" fill="#fff" stroke="#000" stroke-width="1.2"/>
<rect x="438.07" y="662.08" width="4.85" height="4.85" fill="#fff" stroke="#000" stroke-width="1.2"/>
<rect x="446.07" y="661.58" width="4.85" height="4.85" fill="#fff" stroke="#000" stroke-width="1.2"/>
<rect x="436.07" y="664.58" width="4.85" height="4.85" fill="#fff" stroke="#000" stroke-width="1.2"/>
<rect x="448.57" y="663.08" width="4.85" height="4.85" fill="#fff" stroke="#000" stroke-width="1.2"/>
<rect x="444.07" y="666.58" width="4.85" height="4.85" fill="#fff" stroke="#000" stroke-width="1.2"/>
<rect x="440.07" y="668.08" width="4.85" height="4.85" fill="#fff" stroke="#000" stroke-width="1.2"/>
<path d="M471.25 633.5H497.25" stroke="#000" stroke-width="1.05"/>
<rect x="481.5" y="597.5" width="5.5" height="5.5" fill="#000"/>
<rect x="481.5" y="606.75" width="5.5" height="5.5" fill="#000"/>
<rect x="481.5" y="617.25" width="5.5" height="5.5" fill="#000"/>
<rect x="477.5" y="624" width="5.5" height="5.5" fill="#000"/>
<rect x="485.5" y="629.25" width="5.5" height="5.5" fill="#000"/>
<rect x="481.5" y="641.75" width="5.5" height="5.5" fill="#000"/>
<rect x="477.5" y="646.25" width="5.5" height="5.5" fill="#000"/>
<rect x="485.5" y="650.75" width="5.5" height="5.5" fill="#000"/>
<rect x="481.5" y="659.5" width="5.5" height="5.5" fill="#000"/>
<path d="M511 593.5H537" stroke="#000" stroke-width="1.05"/>
<rect x="516.9" y="553.4" width="6.2" height="6.2" fill="#808080"/>
<rect x="524.9" y="553.4" width="6.2" height="6.2" fill="#808080"/>
<rect x="520.9" y="571.15" width="6.2" height="6.2" fill="#808080"/>
<rect x="528.9" y="597.15" width="6.2" height="6.2" fill="#808080"/>
<rect x="516.9" y="594.15" width="6.2" height="6.2" fill="#808080"/>
<rect x="524.9" y="601.9" width="6.2" height="6.2" fill="#808080"/>
<rect x="516.9" y="606.9" width="6.2" height="6.2" fill="#808080"/>
<rect x="520.9" y="615.4" width="6.2" height="6.2" fill="#808080"/>
<rect x="520.9" y="623.9" width="6.2" height="6.2" fill="#808080"/>
<path d="M486.75 540.5H526.25M486.75 534.6V546.4M526.25 534.6V546.4" fill="none" stroke="#000" stroke-width="1.75"/>
<text x="505.75" y="533" font-size="9.6" letter-spacing="1" text-anchor="middle">**</text>
<text transform="translate(380.25 667.7) rotate(-90)" class="b" font-size="10.55" textLength="108.1" lengthAdjust="spacing">% bladder infiltrating</text>
<text transform="translate(396 660.5) rotate(-90)" class="b" font-size="10.55" textLength="92.9" lengthAdjust="spacing">CD3<tspan dy="-4.96" font-size="7.81">+</tspan><tspan dy="4.96">/</tspan>CD8<tspan dy="-4.96" font-size="7.81">+</tspan><tspan dy="4.96"> </tspan>T cells</text>
</g>
<g id="F2">
<path d="M590 548.6V678H719.25M590 549.25H585.75M590 592.25H585.75M590 635.25H585.75M590 678H585.75M616 678V682.25M654.5 678V682.25M693 678V682.25" fill="none" stroke="#000" stroke-width="1.3"/>
<g class="t" font-size="10" text-anchor="end">
<text x="585" y="552.85">30</text>
<text x="585" y="595.85">20</text>
<text x="585" y="638.85">10</text>
<text x="585" y="681.6">0</text>
</g>
<path d="M603 669.5H629.25" stroke="#000" stroke-width="1.05"/>
<rect x="613.58" y="650.58" width="4.85" height="4.85" fill="#fff" stroke="#000" stroke-width="1.2"/>
<rect x="613.58" y="656.83" width="4.85" height="4.85" fill="#fff" stroke="#000" stroke-width="1.2"/>
<rect x="613.58" y="662.58" width="4.85" height="4.85" fill="#fff" stroke="#000" stroke-width="1.2"/>
<rect x="624.08" y="666.83" width="4.85" height="4.85" fill="#fff" stroke="#000" stroke-width="1.2"/>
<rect x="608.58" y="671.58" width="4.85" height="4.85" fill="#fff" stroke="#000" stroke-width="1.2"/>
<rect x="613.58" y="672.08" width="4.85" height="4.85" fill="#fff" stroke="#000" stroke-width="1.2"/>
<rect x="618.83" y="671.58" width="4.85" height="4.85" fill="#fff" stroke="#000" stroke-width="1.2"/>
<rect x="603.33" y="673.08" width="4.85" height="4.85" fill="#fff" stroke="#000" stroke-width="1.2"/>
<rect x="624.08" y="675.83" width="4.85" height="4.85" fill="#fff" stroke="#000" stroke-width="1.2"/>
<path d="M641.75 650.5H667.5" stroke="#000" stroke-width="1.05"/>
<rect x="646.65" y="626.15" width="5.2" height="5.2" fill="#000"/>
<rect x="657.15" y="629.4" width="5.2" height="5.2" fill="#000"/>
<rect x="651.9" y="635.27" width="5.2" height="5.2" fill="#000"/>
<rect x="651.9" y="642.65" width="5.2" height="5.2" fill="#000"/>
<rect x="651.9" y="648.9" width="5.2" height="5.2" fill="#000"/>
<rect x="657.15" y="653.65" width="5.2" height="5.2" fill="#000"/>
<rect x="647.15" y="657.15" width="5.2" height="5.2" fill="#000"/>
<rect x="657.15" y="670.65" width="5.2" height="5.2" fill="#000"/>
<rect x="647.15" y="672.9" width="5.2" height="5.2" fill="#000"/>
<path d="M680.25 618.5H706.25" stroke="#000" stroke-width="1.05"/>
<rect x="690.75" y="555.25" width="5.0" height="5.0" fill="#808080"/>
<rect x="690.75" y="581" width="5.0" height="5.0" fill="#808080"/>
<rect x="690.75" y="611" width="5.0" height="5.0" fill="#808080"/>
<rect x="690.75" y="618.25" width="5.0" height="5.0" fill="#808080"/>
<rect x="685.75" y="624" width="5.0" height="5.0" fill="#808080"/>
<rect x="696" y="625.75" width="5.0" height="5.0" fill="#808080"/>
<rect x="690.75" y="637" width="5.0" height="5.0" fill="#808080"/>
<rect x="696" y="646.25" width="5.0" height="5.0" fill="#808080"/>
<rect x="685.75" y="650.75" width="5.0" height="5.0" fill="#808080"/>
<path d="M651.25 547H693M651.25 541.1V552.9M693 541.1V552.9" fill="none" stroke="#000" stroke-width="1.75"/>
<text x="672" y="544.5" font-size="9.6" letter-spacing="1" text-anchor="middle">*</text>
<text transform="translate(552.15 665.3) rotate(-90)" class="b" font-size="10.55" textLength="103.3" lengthAdjust="spacing">% bladder infiltraing</text>
<text transform="translate(567.42 660.5) rotate(-90)" class="b" font-size="10.55" textLength="92.9" lengthAdjust="spacing">IFN<tspan font-weight="normal" font-size="9.6" stroke="none">γ</tspan><tspan dy="-4.96" font-size="7.81">+</tspan><tspan dy="4.96">/</tspan>CD8<tspan dy="-4.96" font-size="7.81">+</tspan><tspan dy="4.96"> </tspan>T cells</text>
</g>
<g id="G">
<path d="M58 725.85V858H189.75M58 726.5H53.75M58 759.5H53.75M58 792.25H53.75M58 825H53.75M58 858H53.75M84.5 858V862.25M123.75 858V862.25M163 858V862.25" fill="none" stroke="#000" stroke-width="1.3"/>
<g class="t" font-size="10" text-anchor="end">
<text x="53" y="730.1">4</text>
<text x="53" y="763.1">3</text>
<text x="53" y="795.85">2</text>
<text x="53" y="828.6">1</text>
<text x="53" y="861.6">0</text>
</g>
<path d="M71.25 798.5H97.5" stroke="#000" stroke-width="1.25"/>
<rect x="81.9" y="756.9" width="5.2" height="5.2" fill="#fff" stroke="#000" stroke-width="1.35"/>
<rect x="71.9" y="782.15" width="5.2" height="5.2" fill="#fff" stroke="#000" stroke-width="1.35"/>
<rect x="77.9" y="785.15" width="5.2" height="5.2" fill="#fff" stroke="#000" stroke-width="1.35"/>
<rect x="91.9" y="783.65" width="5.2" height="5.2" fill="#fff" stroke="#000" stroke-width="1.35"/>
<rect x="84.9" y="789.65" width="5.2" height="5.2" fill="#fff" stroke="#000" stroke-width="1.35"/>
<rect x="85.65" y="802.9" width="5.2" height="5.2" fill="#fff" stroke="#000" stroke-width="1.35"/>
<rect x="77.9" y="804.15" width="5.2" height="5.2" fill="#fff" stroke="#000" stroke-width="1.35"/>
<rect x="81.9" y="822.65" width="5.2" height="5.2" fill="#fff" stroke="#000" stroke-width="1.35"/>
<rect x="81.9" y="832.9" width="5.2" height="5.2" fill="#fff" stroke="#000" stroke-width="1.35"/>
<path d="M110.5 804.5H136.75" stroke="#000" stroke-width="1.25"/>
<rect x="121" y="763.5" width="5.5" height="5.5" fill="#000"/>
<rect x="117.25" y="786.25" width="5.5" height="5.5" fill="#000"/>
<rect x="129" y="792.75" width="5.5" height="5.5" fill="#000"/>
<rect x="125" y="799.75" width="5.5" height="5.5" fill="#000"/>
<rect x="117.25" y="803.25" width="5.5" height="5.5" fill="#000"/>
<rect x="112.25" y="805.75" width="5.5" height="5.5" fill="#000"/>
<rect x="129" y="805.25" width="5.5" height="5.5" fill="#000"/>
<rect x="121" y="813.5" width="5.5" height="5.5" fill="#000"/>
<rect x="121" y="838.75" width="5.5" height="5.5" fill="#000"/>
<path d="M150 794.5H176.25" stroke="#000" stroke-width="1.25"/>
<rect x="156.2" y="766.7" width="5.6" height="5.6" fill="#808080"/>
<rect x="164.2" y="768.45" width="5.6" height="5.6" fill="#808080"/>
<rect x="152.2" y="786.2" width="5.6" height="5.6" fill="#808080"/>
<rect x="167.95" y="788.95" width="5.6" height="5.6" fill="#808080"/>
<rect x="160.2" y="792.7" width="5.6" height="5.6" fill="#808080"/>
<rect x="156.2" y="799.2" width="5.6" height="5.6" fill="#808080"/>
<rect x="167.95" y="802.2" width="5.6" height="5.6" fill="#808080"/>
<rect x="164.2" y="809.95" width="5.6" height="5.6" fill="#808080"/>
<rect x="156.2" y="812.45" width="5.6" height="5.6" fill="#808080"/>
<path d="M123.75 752.5H162.5M123.75 746.6V758.4M162.5 746.6V758.4" fill="none" stroke="#000" stroke-width="1.75"/>
<text x="144.5" y="746.3" font-size="11" text-anchor="middle">n.s.</text>
<text transform="translate(29.25 871.8) rotate(-90)" class="b" font-size="10.55" textLength="158.6" lengthAdjust="spacing">% bladder CD4<tspan dy="-4.96" font-size="7.81">+</tspan><tspan dy="4.96">/</tspan>CD25<tspan dy="-4.96" font-size="7.81">+</tspan><tspan dy="4.96">/</tspan>Foxp3<tspan dy="-4.96" font-size="7.81">+</tspan></text>
<text transform="translate(41.5 835.1) rotate(-90)" class="b" font-size="10.55" textLength="87.2" lengthAdjust="spacing">T regulatory cells</text>
<text transform="translate(87.8 871.8) rotate(-43.5)" class="b" font-size="9.75" text-anchor="end">PBS</text>
<text transform="translate(127.05 871.8) rotate(-43.5)" class="b" font-size="9.75" text-anchor="end">VSVd51</text>
<text transform="translate(166.3 871.8) rotate(-43.5)" class="b" font-size="9.75" text-anchor="end">VSVd51-mGM-CSF</text>
</g>
<g id="H1">
<path d="M239.5 730.85V860H368M239.5 731.5H235.25M239.5 774.25H235.25M239.5 817.25H235.25M239.5 860H235.25M265.5 860V864.25M303.5 860V864.25M342.25 860V864.25" fill="none" stroke="#000" stroke-width="1.3"/>
<g class="t" font-size="10" text-anchor="end">
<text x="234.5" y="735.1">60</text>
<text x="234.5" y="777.85">40</text>
<text x="234.5" y="820.85">20</text>
<text x="234.5" y="863.6">0</text>
</g>
<path d="M252.25 788.5H278.5" stroke="#000" stroke-width="1.3"/>
<rect x="262.9" y="753.65" width="5.2" height="5.2" fill="#fff" stroke="#000" stroke-width="1.35"/>
<rect x="268.4" y="769.65" width="5.2" height="5.2" fill="#fff" stroke="#000" stroke-width="1.35"/>
<rect x="257.65" y="773.9" width="5.2" height="5.2" fill="#fff" stroke="#000" stroke-width="1.35"/>
<rect x="262.9" y="782.9" width="5.2" height="5.2" fill="#fff" stroke="#000" stroke-width="1.35"/>
<rect x="257.65" y="791.4" width="5.2" height="5.2" fill="#fff" stroke="#000" stroke-width="1.35"/>
<rect x="268.4" y="795.65" width="5.2" height="5.2" fill="#fff" stroke="#000" stroke-width="1.35"/>
<rect x="257.65" y="799.9" width="5.2" height="5.2" fill="#fff" stroke="#000" stroke-width="1.35"/>
<rect x="268.4" y="804.15" width="5.2" height="5.2" fill="#fff" stroke="#000" stroke-width="1.35"/>
<rect x="257.65" y="806.65" width="5.2" height="5.2" fill="#fff" stroke="#000" stroke-width="1.35"/>
<path d="M290.25 833.5H317.25" stroke="#000" stroke-width="1.3"/>
<rect x="304" y="816.15" width="6.2" height="6.2" fill="#000"/>
<rect x="297" y="818.1" width="6.2" height="6.2" fill="#000"/>
<rect x="297" y="823.9" width="6.2" height="6.2" fill="#000"/>
<rect x="310.9" y="825.9" width="6.2" height="6.2" fill="#000"/>
<rect x="290.2" y="830.9" width="6.2" height="6.2" fill="#000"/>
<rect x="297" y="833" width="6.2" height="6.2" fill="#000"/>
<rect x="303.8" y="831.1" width="6.2" height="6.2" fill="#000"/>
<rect x="310.9" y="833" width="6.2" height="6.2" fill="#000"/>
<rect x="300.8" y="839.6" width="6.2" height="6.2" fill="#000"/>
<path d="M329 807.5H355.25" stroke="#000" stroke-width="1.3"/>
<rect x="345.25" y="786.75" width="5.0" height="5.0" fill="#808080"/>
<rect x="334.75" y="789.25" width="5.0" height="5.0" fill="#808080"/>
<rect x="340" y="797" width="5.0" height="5.0" fill="#808080"/>
<rect x="334.75" y="805" width="5.0" height="5.0" fill="#808080"/>
<rect x="345.25" y="805" width="5.0" height="5.0" fill="#808080"/>
<rect x="334.75" y="811.5" width="5.0" height="5.0" fill="#808080"/>
<rect x="345.25" y="809.75" width="5.0" height="5.0" fill="#808080"/>
<rect x="340" y="818.75" width="5.0" height="5.0" fill="#808080"/>
<rect x="340" y="825" width="5.0" height="5.0" fill="#808080"/>
<path d="M263 729.25H342.25M263 723.35V735.15M342.25 723.35V735.15" fill="none" stroke="#000" stroke-width="1.75"/>
<text x="300.25" y="721.25" font-size="9.6" letter-spacing="1" text-anchor="middle">*</text>
<path d="M264.75 747.5H304.75M264.75 741.6V753.4M304.75 741.6V753.4" fill="none" stroke="#000" stroke-width="1.75"/>
<text x="282.75" y="741" font-size="9.6" letter-spacing="1" text-anchor="middle">***</text>
<path d="M302 774.5H341.25M302 768.6V780.4M341.25 768.6V780.4" fill="none" stroke="#000" stroke-width="1.75"/>
<text x="321.5" y="770" font-size="9.6" letter-spacing="1" text-anchor="middle">***</text>
<text transform="translate(201.6 858.2) rotate(-90)" class="b" font-size="10.55" textLength="136.3" lengthAdjust="spacing">% bladder CD11b<tspan dy="-4.96" font-size="6.4">+</tspan><tspan dy="4.96">/</tspan>Ly6G<tspan dy="-4.96" font-size="8.2">high</tspan></text>
<text transform="translate(214.25 835.1) rotate(-90)" class="b" font-size="10.55" textLength="90.1" lengthAdjust="spacing">granulocytic cells</text>
<text transform="translate(268.8 873.8) rotate(-43.5)" class="b" font-size="9.5" text-anchor="end">PBS</text>
<text transform="translate(306.8 873.8) rotate(-43.5)" class="b" font-size="9.5" text-anchor="end">VSVd51</text>
<text transform="translate(345.55 873.8) rotate(-43.5)" class="b" font-size="9.5" text-anchor="end">VSVd51-mGM-CSF</text>
</g>
<g id="H2">
<path d="M420.5 738.35V862.25H544.5M420.5 739H416.25M420.5 780.25H416.25M420.5 821.25H416.25M420.5 862.25H416.25M445.25 862.25V866.5M482.25 862.25V866.5M519 862.25V866.5" fill="none" stroke="#000" stroke-width="1.3"/>
<g class="t" font-size="10" text-anchor="end">
<text x="415.5" y="742.6">30</text>
<text x="415.5" y="783.85">20</text>
<text x="415.5" y="824.85">10</text>
<text x="415.5" y="865.85">0</text>
</g>
<path d="M432.75 776.5H457.75" stroke="#000" stroke-width="1.05"/>
<rect x="437.82" y="744.58" width="4.85" height="4.85" fill="#fff" stroke="#000" stroke-width="1.2"/>
<rect x="447.82" y="749.33" width="4.85" height="4.85" fill="#fff" stroke="#000" stroke-width="1.2"/>
<rect x="442.82" y="758.83" width="4.85" height="4.85" fill="#fff" stroke="#000" stroke-width="1.2"/>
<rect x="442.82" y="769.33" width="4.85" height="4.85" fill="#fff" stroke="#000" stroke-width="1.2"/>
<rect x="437.82" y="781.58" width="4.85" height="4.85" fill="#fff" stroke="#000" stroke-width="1.2"/>
<rect x="447.82" y="782.08" width="4.85" height="4.85" fill="#fff" stroke="#000" stroke-width="1.2"/>
<rect x="437.82" y="790.33" width="4.85" height="4.85" fill="#fff" stroke="#000" stroke-width="1.2"/>
<rect x="447.82" y="790.33" width="4.85" height="4.85" fill="#fff" stroke="#000" stroke-width="1.2"/>
<rect x="442.82" y="798.33" width="4.85" height="4.85" fill="#fff" stroke="#000" stroke-width="1.2"/>
<path d="M469.5 829.5H494.5" stroke="#000" stroke-width="1.05"/>
<rect x="479.85" y="814.85" width="4.8" height="4.8" fill="#000"/>
<rect x="475.85" y="822.6" width="4.8" height="4.8" fill="#000"/>
<rect x="479.85" y="821.85" width="4.8" height="4.8" fill="#000"/>
<rect x="469.6" y="827.1" width="4.8" height="4.8" fill="#000"/>
<rect x="477.1" y="827.1" width="4.8" height="4.8" fill="#000"/>
<rect x="484.6" y="827.1" width="4.8" height="4.8" fill="#000"/>
<rect x="489.6" y="827.1" width="4.8" height="4.8" fill="#000"/>
<rect x="474.6" y="831.35" width="4.8" height="4.8" fill="#000"/>
<rect x="484.6" y="831.35" width="4.8" height="4.8" fill="#000"/>
<rect x="479.85" y="841.85" width="4.8" height="4.8" fill="#000"/>
<path d="M506.5 826.5H532" stroke="#000" stroke-width="1.05"/>
<rect x="516.65" y="784.65" width="4.7" height="4.7" fill="#808080"/>
<rect x="521.9" y="806.65" width="4.7" height="4.7" fill="#808080"/>
<rect x="511.65" y="810.65" width="4.7" height="4.7" fill="#808080"/>
<rect x="516.65" y="815.9" width="4.7" height="4.7" fill="#808080"/>
<rect x="516.65" y="822.4" width="4.7" height="4.7" fill="#808080"/>
<rect x="511.65" y="839.15" width="4.7" height="4.7" fill="#808080"/>
<rect x="521.9" y="838.4" width="4.7" height="4.7" fill="#808080"/>
<rect x="521.9" y="847.9" width="4.7" height="4.7" fill="#808080"/>
<rect x="511.65" y="851.65" width="4.7" height="4.7" fill="#808080"/>
<path d="M444 718.25H518.75M444 712.35V724.15M518.75 712.35V724.15" fill="none" stroke="#000" stroke-width="1.75"/>
<text x="478.25" y="713.75" font-size="9.6" letter-spacing="1" text-anchor="middle">**</text>
<path d="M445.25 737.5H477.75M445.25 731.6V743.4M477.75 731.6V743.4" fill="none" stroke="#000" stroke-width="1.75"/>
<text x="463.75" y="734.5" font-size="9.6" letter-spacing="1" text-anchor="middle">***</text>
<path d="M476.5 773.75H518.75M476.5 767.85V779.65M518.75 767.85V779.65" fill="none" stroke="#000" stroke-width="1.75"/>
<text x="498.75" y="766.25" font-size="11" text-anchor="middle">n.s.</text>
<text transform="translate(384 859.2) rotate(-90)" class="b" font-size="10.55" textLength="127.7" lengthAdjust="spacing">% bladder CD11b<tspan dy="-4.96" font-size="6.4">+</tspan><tspan dy="4.96">/</tspan>Ly6G<tspan dy="-4.96" font-size="7.2" font-weight="normal" stroke="none">low</tspan></text>
<text transform="translate(396.1 834.2) rotate(-90)" class="b" font-size="10.55" textLength="77.6" lengthAdjust="spacing">monocytic cells</text>
<text transform="translate(448.55 876.05) rotate(-43.5)" class="b" font-size="9.2" text-anchor="end">PBS</text>
<text transform="translate(485.55 876.05) rotate(-43.5)" class="b" font-size="9.2" text-anchor="end">VSVd51</text>
<text transform="translate(522.3 876.05) rotate(-43.5)" class="b" font-size="9.2" text-anchor="end">VSVd51-mGM-CSF</text>
</g>
<g id="H3">
<path d="M591.75 737.1V861.5H716.75M591.75 737.75H587.5M591.75 779.25H587.5M591.75 820.5H587.5M591.75 861.5H587.5M616.5 861.5V865.75M653.75 861.5V865.75M691 861.5V865.75" fill="none" stroke="#000" stroke-width="1.3"/>
<g class="t" font-size="10" text-anchor="end">
<text x="586.75" y="741.35">60</text>
<text x="586.75" y="782.85">40</text>
<text x="586.75" y="824.1">20</text>
<text x="586.75" y="865.1">0</text>
</g>
<path d="M604.25 777.5H629.25" stroke="#000" stroke-width="1.05"/>
<rect x="616.83" y="757.58" width="4.85" height="4.85" fill="#fff" stroke="#000" stroke-width="1.2"/>
<rect x="611.83" y="759.83" width="4.85" height="4.85" fill="#fff" stroke="#000" stroke-width="1.2"/>
<rect x="614.33" y="768.33" width="4.85" height="4.85" fill="#fff" stroke="#000" stroke-width="1.2"/>
<rect x="624.33" y="776.83" width="4.85" height="4.85" fill="#fff" stroke="#000" stroke-width="1.2"/>
<rect x="609.33" y="780.83" width="4.85" height="4.85" fill="#fff" stroke="#000" stroke-width="1.2"/>
<rect x="614.33" y="780.83" width="4.85" height="4.85" fill="#fff" stroke="#000" stroke-width="1.2"/>
<rect x="619.33" y="780.83" width="4.85" height="4.85" fill="#fff" stroke="#000" stroke-width="1.2"/>
<rect x="604.33" y="784.58" width="4.85" height="4.85" fill="#fff" stroke="#000" stroke-width="1.2"/>
<rect x="624.33" y="784.58" width="4.85" height="4.85" fill="#fff" stroke="#000" stroke-width="1.2"/>
<rect x="648.05" y="807.55" width="4.9" height="4.9" fill="#000"/>
<rect x="641.8" y="810.05" width="4.9" height="4.9" fill="#000"/>
<rect x="661.3" y="811.55" width="4.9" height="4.9" fill="#000"/>
<rect x="641.8" y="815.05" width="4.9" height="4.9" fill="#000"/>
<rect x="648.05" y="815.8" width="4.9" height="4.9" fill="#000"/>
<rect x="655.05" y="814.3" width="4.9" height="4.9" fill="#000"/>
<rect x="661.3" y="818.05" width="4.9" height="4.9" fill="#000"/>
<rect x="655.05" y="819.8" width="4.9" height="4.9" fill="#000"/>
<rect x="641.8" y="821.8" width="4.9" height="4.9" fill="#000"/>
<path d="M678.75 799.5H703.75" stroke="#000" stroke-width="1.05"/>
<rect x="683.8" y="786.8" width="4.9" height="4.9" fill="#808080"/>
<rect x="693.8" y="791.05" width="4.9" height="4.9" fill="#808080"/>
<rect x="688.8" y="793.55" width="4.9" height="4.9" fill="#808080"/>
<rect x="698.8" y="795.3" width="4.9" height="4.9" fill="#808080"/>
<rect x="683.8" y="798.05" width="4.9" height="4.9" fill="#808080"/>
<rect x="690.55" y="798.05" width="4.9" height="4.9" fill="#808080"/>
<rect x="678.8" y="801.05" width="4.9" height="4.9" fill="#808080"/>
<rect x="685.55" y="801.05" width="4.9" height="4.9" fill="#808080"/>
<rect x="698.8" y="803.55" width="4.9" height="4.9" fill="#808080"/>
<path d="M617.5 731H689.75M617.5 725.1V736.9M689.75 725.1V736.9" fill="none" stroke="#000" stroke-width="1.75"/>
<text x="652.25" y="726.25" font-size="9.6" letter-spacing="1" text-anchor="middle">***</text>
<path d="M617.5 749.5H652.5M617.5 743.6V755.4M652.5 743.6V755.4" fill="none" stroke="#000" stroke-width="1.75"/>
<text x="634" y="746" font-size="9.6" letter-spacing="1" text-anchor="middle">***</text>
<path d="M651.5 776.75H691.25M651.5 770.85V782.65M691.25 770.85V782.65" fill="none" stroke="#000" stroke-width="1.75"/>
<text x="670.5" y="773.75" font-size="9.6" letter-spacing="1" text-anchor="middle">***</text>
<text transform="translate(557.75 882.5) rotate(-90)" class="b" font-size="10.55" textLength="166.7" lengthAdjust="spacing">% bladder CD11b<tspan dy="-4.96" font-size="6.4">+</tspan><tspan dy="4.96">/</tspan>Ly6G<tspan dy="-4.96" font-size="7.6">high</tspan><tspan dy="4.96">/</tspan>ARG1<tspan dy="-4.96" font-size="6.4">+</tspan></text>
<text transform="translate(570.5 842.8) rotate(-90)" class="b" font-size="10.55" textLength="87.3" lengthAdjust="spacing">granulocytic cells</text>
<text transform="translate(619.8 875.3) rotate(-43.5)" class="b" font-size="9.2" text-anchor="end">PBS</text>
<text transform="translate(657.05 875.3) rotate(-43.5)" class="b" font-size="9.2" text-anchor="end">VSVd51</text>
<text transform="translate(694.3 875.3) rotate(-43.5)" class="b" font-size="9.2" text-anchor="end">VSVd51-mGM-CSF</text>
</g>
</svg></body></html>
